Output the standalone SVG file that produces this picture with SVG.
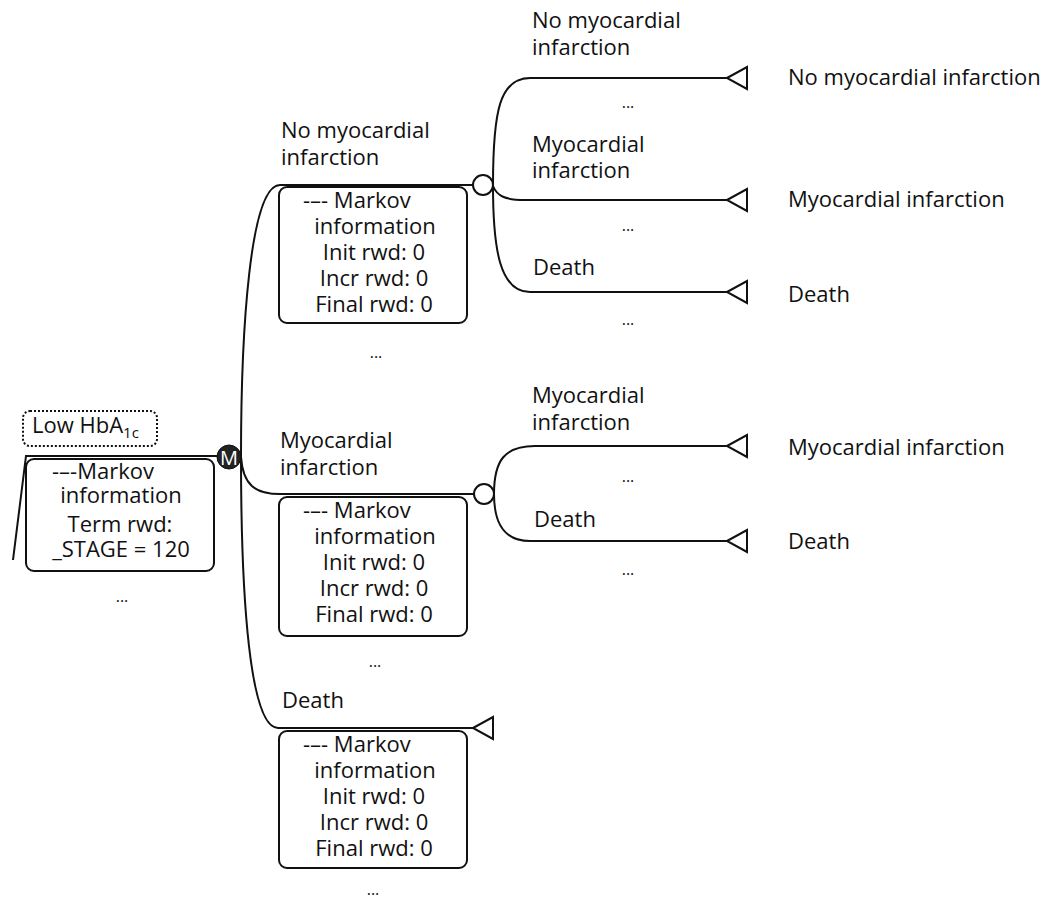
<svg xmlns="http://www.w3.org/2000/svg" width="1053" height="901" viewBox="0 0 1053 901">
<style>
text{font-family:"Open Sans","Noto Sans","Liberation Sans",sans-serif;font-size:22px;fill:#111}
.c{text-anchor:middle}
.dots{font-size:16px;text-anchor:middle}
.ln{fill:none;stroke:#111;stroke-width:2}
.box{fill:#fff;stroke:#111;stroke-width:2}
.term{fill:#fff;stroke:#111;stroke-width:2;stroke-linejoin:miter}
.chance{fill:#fff;stroke:#111;stroke-width:2}
</style>
<rect width="1053" height="901" fill="#fff"/>
<g id="connectors">
  <path class="ln" d="M13,560 L26,456 L229,456"/>
  <path class="ln" d="M280,185 C250,185 241,330 241,457 C241,600 250,728 278,728 L473,728"/>
  <path class="ln" d="M280,185 L473,185"/>
  <path class="ln" d="M241,457 C243,485 255,494 280,494 L474,494"/>
  <path class="ln" d="M493,185 C493,110 500,78 530,78 L727,78"/>
  <path class="ln" d="M493,186 C497,196 505,200 525,200 L727,200"/>
  <path class="ln" d="M493,186 C493,250 500,292 530,292 L727,292"/>
  <path class="ln" d="M494,494 C494,460 505,446 535,446 L727,446"/>
  <path class="ln" d="M494,494 C494,525 505,541 530,541 L727,541"/>
</g>
<g id="root-label">
  <rect x="23" y="411" width="134" height="35" rx="7" fill="#fff" stroke="#111" stroke-width="2" stroke-dasharray="2,2"/>
  <text x="32" y="433">Low HbA<tspan font-size="15" dy="5">1c</tspan></text>
</g>
<g id="root-markov">
  <rect class="box" x="26" y="459" width="188" height="112" rx="8"/>
  <text x="52" y="479">-–-Markov</text>
  <text class="c" x="121" y="503">information</text>
  <text class="c" x="120" y="532">Term rwd:</text>
  <text class="c" x="121" y="557">_STAGE = 120</text>
  <text class="dots" x="122" y="602">...</text>
</g>
<g id="markov-node">
  <circle cx="229" cy="457" r="12" fill="#222" stroke="#111" stroke-width="1"/>
  <text class="c" x="229" y="464.5" style="fill:#fff;font-size:20px">M</text>
</g>
<g id="state-no-mi">
  <text x="281" y="138">No myocardial</text>
  <text x="281" y="165">infarction</text>
  <rect class="box" x="279" y="187" width="188" height="136" rx="8"/>
  <text x="303" y="208">-–- Markov</text>
  <text class="c" x="375" y="234">information</text>
  <text class="c" x="374" y="260">Init rwd: 0</text>
  <text class="c" x="374" y="286">Incr rwd: 0</text>
  <text class="c" x="374" y="312">Final rwd: 0</text>
  <text class="dots" x="376" y="358">...</text>
  <circle class="chance" cx="483" cy="185" r="10"/>
</g>
<g id="state-mi">
  <text x="280" y="448">Myocardial</text>
  <text x="280" y="475">infarction</text>
  <rect class="box" x="279" y="497" width="188" height="139" rx="8"/>
  <text x="303" y="518">-–- Markov</text>
  <text class="c" x="375" y="544">information</text>
  <text class="c" x="374" y="570">Init rwd: 0</text>
  <text class="c" x="374" y="596">Incr rwd: 0</text>
  <text class="c" x="374" y="622">Final rwd: 0</text>
  <text class="dots" x="375" y="667">...</text>
  <circle class="chance" cx="484" cy="494" r="10"/>
</g>
<g id="state-death">
  <text x="282" y="708">Death</text>
  <rect class="box" x="279" y="731" width="188" height="137" rx="8"/>
  <text x="303" y="752">-–- Markov</text>
  <text class="c" x="375" y="778">information</text>
  <text class="c" x="374" y="804">Init rwd: 0</text>
  <text class="c" x="374" y="830">Incr rwd: 0</text>
  <text class="c" x="374" y="856">Final rwd: 0</text>
  <text class="dots" x="373" y="895">...</text>
  <polygon class="term" points="473,728 493,717 493,739"/>
</g>
<g id="t-nomi-nomi">
  <text x="532" y="28">No myocardial</text>
  <text x="532" y="55">infarction</text>
  <text class="dots" x="628" y="108">...</text>
  <polygon class="term" points="727,78 747,67 747,89"/>
  <text x="788" y="85">No myocardial infarction</text>
</g>
<g id="t-nomi-mi">
  <text x="532" y="152">Myocardial</text>
  <text x="532" y="178">infarction</text>
  <text class="dots" x="628" y="231">...</text>
  <polygon class="term" points="727,200 747,189 747,211"/>
  <text x="788" y="207">Myocardial infarction</text>
</g>
<g id="t-nomi-death">
  <text x="533" y="275">Death</text>
  <text class="dots" x="628" y="325">...</text>
  <polygon class="term" points="727,292 747,281 747,303"/>
  <text x="788" y="302">Death</text>
</g>
<g id="t-mi-mi">
  <text x="532" y="403">Myocardial</text>
  <text x="532" y="430">infarction</text>
  <text class="dots" x="628" y="482">...</text>
  <polygon class="term" points="727,446 747,435 747,457"/>
  <text x="788" y="455">Myocardial infarction</text>
</g>
<g id="t-mi-death">
  <text x="534" y="527">Death</text>
  <text class="dots" x="628" y="575">...</text>
  <polygon class="term" points="727,541 747,530 747,552"/>
  <text x="788" y="549">Death</text>
</g>
</svg>
